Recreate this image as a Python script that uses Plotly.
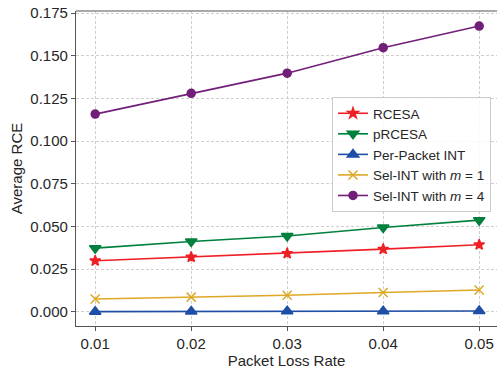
import plotly.graph_objects as go

# Packet loss rates on the x axis
loss_rate = [0.01, 0.02, 0.03, 0.04, 0.05]

# Average RCE for each scheme
rcesa = [0.0299, 0.0321, 0.0342, 0.0367, 0.0393]
prcesa = [0.0373, 0.0412, 0.0444, 0.0494, 0.0537]
per_packet_int = [0.0001, 0.0002, 0.0003, 0.0004, 0.0005]
sel_int_m1 = [0.0075, 0.0086, 0.0097, 0.0113, 0.0128]
sel_int_m4 = [0.1158, 0.1280, 0.1398, 0.1547, 0.1674]

x_ticks = [0.01, 0.02, 0.03, 0.04, 0.05]
y_ticks = [0.000, 0.025, 0.050, 0.075, 0.100, 0.125, 0.150, 0.175]

series = [
    ("RCESA", rcesa, "#EE1F26", "star", 8),
    ("pRCESA", prcesa, "#00803D", "triangle-down", 10),
    ("Per-Packet INT", per_packet_int, "#1F4EA6", "triangle-up", 10),
    ("Sel-INT with <i>m</i> = 1", sel_int_m1, "#DDA823", "x-thin-open", 9),
    ("Sel-INT with <i>m</i> = 4", sel_int_m4, "#711F79", "circle", 8),
]

fig = go.Figure()
for name, vals, color, symbol, size in series:
    fig.add_trace(go.Scatter(
        x=loss_rate, y=vals, name=name, mode="lines+markers",
        line=dict(color=color, width=1.6),
        marker=dict(symbol=symbol, size=size, color=color,
                    line=dict(color=color, width=1.5)),
    ))

base_font = "Liberation Sans, Arial, sans-serif"

fig.update_layout(
    width=497, height=373,
    margin=dict(l=76, r=0, t=11, b=47),
    plot_bgcolor="white", paper_bgcolor="white",
    font=dict(family=base_font, size=15, color="#262626"),
    showlegend=True,
    legend=dict(
        x=(491 - 76) / 421, y=(326 - 97) / 315, xanchor="right", yanchor="top",
        bgcolor="rgba(255,255,255,0.85)", bordercolor="#CCCCCC", borderwidth=1,
        font=dict(family=base_font, size=13.5, color="#262626"),
        tracegroupgap=0, itemwidth=30,
    ),
    xaxis=dict(
        range=[0.008, 0.008 + 421 / 9600],
        tickvals=x_ticks, ticktext=[f"{v:.2f}" for v in x_ticks],
        tickfont=dict(size=15),
        showgrid=True, gridcolor="#CFCFCF", griddash="3px,2px", gridwidth=1,
        zeroline=False, showline=True, linecolor="#555555", linewidth=1.3,
        ticks="outside", ticklen=4, tickcolor="#555555",
        title=dict(text="Packet Loss Rate", font=dict(size=15), standoff=3),
    ),
    yaxis=dict(
        range=[-0.0083, 0.1762],
        tickvals=y_ticks, ticktext=[f"{v:.3f}" for v in y_ticks],
        tickfont=dict(size=15),
        showgrid=True, gridcolor="#CFCFCF", griddash="3px,2px", gridwidth=1,
        zeroline=False, showline=True, linecolor="#555555", linewidth=1.3,
        ticks="outside", ticklen=4, tickcolor="#555555",
        title=dict(text="Average RCE", font=dict(size=15), standoff=4),
    ),
)

# Top border of the plotting area
fig.add_shape(type="line", xref="paper", yref="paper", x0=0, x1=1, y0=1, y1=1,
              line=dict(color="#8C8C8C", width=1.5))

fig.write_html("out.html")
